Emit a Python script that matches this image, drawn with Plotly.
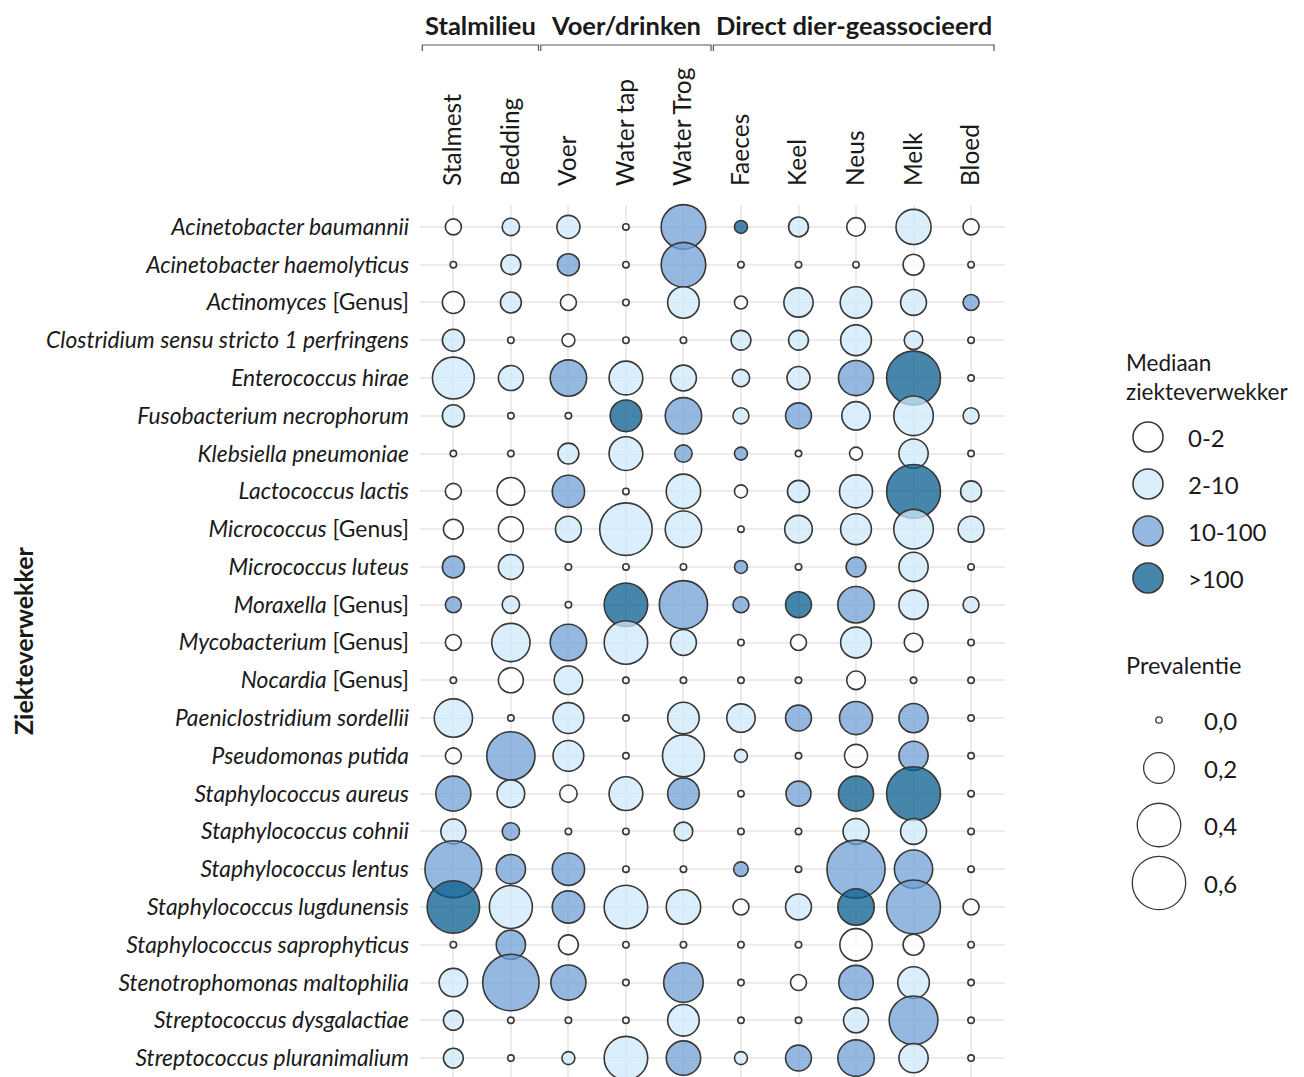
import math
import plotly.graph_objects as go

# ---------------- data ----------------
columns = ["Stalmest", "Bedding", "Voer", "Water tap", "Water Trog",
           "Faeces", "Keel", "Neus", "Melk", "Bloed"]

species = [
    "Acinetobacter baumannii", "Acinetobacter haemolyticus", "Actinomyces [Genus]",
    "Clostridium sensu stricto 1 perfringens", "Enterococcus hirae",
    "Fusobacterium necrophorum", "Klebsiella pneumoniae", "Lactococcus lactis",
    "Micrococcus [Genus]", "Micrococcus luteus", "Moraxella [Genus]",
    "Mycobacterium [Genus]", "Nocardia [Genus]", "Paeniclostridium sordellii",
    "Pseudomonas putida", "Staphylococcus aureus", "Staphylococcus cohnii",
    "Staphylococcus lentus", "Staphylococcus lugdunensis",
    "Staphylococcus saprophyticus", "Stenotrophomonas maltophilia",
    "Streptococcus dysgalactiae", "Streptococcus pluranimalium",
]

# prevalence per species (rows) x sample type (columns)
prevalence = [
    [0.05, 0.06, 0.11, 0.00, 0.42, 0.03, 0.08, 0.07, 0.26, 0.05],
    [0.00, 0.08, 0.10, 0.00, 0.42, 0.00, 0.00, 0.00, 0.09, 0.00],
    [0.10, 0.09, 0.05, 0.00, 0.21, 0.03, 0.18, 0.21, 0.14, 0.05],
    [0.10, 0.00, 0.03, 0.00, 0.00, 0.08, 0.08, 0.20, 0.07, 0.00],
    [0.37, 0.13, 0.28, 0.24, 0.14, 0.06, 0.11, 0.26, 0.61, 0.00],
    [0.10, 0.00, 0.00, 0.21, 0.28, 0.05, 0.14, 0.17, 0.33, 0.05],
    [0.00, 0.00, 0.09, 0.24, 0.06, 0.03, 0.00, 0.03, 0.18, 0.00],
    [0.05, 0.16, 0.22, 0.00, 0.25, 0.03, 0.10, 0.23, 0.61, 0.09],
    [0.08, 0.13, 0.14, 0.58, 0.28, 0.00, 0.16, 0.20, 0.33, 0.14],
    [0.10, 0.13, 0.00, 0.00, 0.00, 0.03, 0.00, 0.08, 0.18, 0.00],
    [0.05, 0.06, 0.00, 0.40, 0.49, 0.05, 0.14, 0.28, 0.18, 0.05],
    [0.05, 0.31, 0.28, 0.40, 0.14, 0.00, 0.05, 0.20, 0.07, 0.00],
    [0.00, 0.13, 0.17, 0.00, 0.00, 0.00, 0.00, 0.07, 0.00, 0.00],
    [0.31, 0.00, 0.20, 0.00, 0.21, 0.17, 0.14, 0.23, 0.18, 0.00],
    [0.05, 0.49, 0.20, 0.00, 0.37, 0.03, 0.00, 0.11, 0.18, 0.00],
    [0.26, 0.16, 0.06, 0.24, 0.21, 0.00, 0.13, 0.26, 0.61, 0.00],
    [0.13, 0.06, 0.00, 0.00, 0.07, 0.00, 0.00, 0.14, 0.14, 0.00],
    [0.68, 0.18, 0.22, 0.00, 0.00, 0.04, 0.00, 0.71, 0.31, 0.00],
    [0.58, 0.39, 0.22, 0.40, 0.25, 0.05, 0.14, 0.28, 0.61, 0.05],
    [0.00, 0.18, 0.08, 0.00, 0.00, 0.00, 0.00, 0.22, 0.09, 0.00],
    [0.17, 0.67, 0.26, 0.00, 0.33, 0.00, 0.05, 0.25, 0.21, 0.00],
    [0.08, 0.00, 0.00, 0.00, 0.21, 0.00, 0.00, 0.13, 0.50, 0.00],
    [0.08, 0.00, 0.03, 0.40, 0.25, 0.03, 0.14, 0.28, 0.18, 0.00],
]

# median pathogen class index: 0 = "0-2", 1 = "2-10", 2 = "10-100", 3 = ">100"
median_class = [
    [0, 1, 1, 0, 2, 3, 1, 0, 1, 0],
    [0, 1, 2, 0, 2, 0, 0, 0, 0, 0],
    [0, 1, 0, 0, 1, 0, 1, 1, 1, 2],
    [1, 0, 0, 0, 0, 1, 1, 1, 1, 0],
    [1, 1, 2, 1, 1, 1, 1, 2, 3, 0],
    [1, 0, 0, 3, 2, 1, 2, 1, 1, 1],
    [0, 0, 1, 1, 2, 2, 0, 0, 1, 0],
    [0, 0, 2, 0, 1, 0, 1, 1, 3, 1],
    [0, 0, 1, 1, 1, 0, 1, 1, 1, 1],
    [2, 1, 0, 0, 0, 2, 0, 2, 1, 0],
    [2, 1, 0, 3, 2, 2, 3, 2, 1, 1],
    [0, 1, 2, 1, 1, 0, 0, 1, 0, 0],
    [0, 0, 1, 0, 0, 0, 0, 0, 0, 0],
    [1, 0, 1, 0, 1, 1, 2, 2, 2, 0],
    [0, 2, 1, 0, 1, 1, 0, 0, 2, 0],
    [2, 1, 0, 1, 2, 0, 2, 3, 3, 0],
    [1, 2, 0, 0, 1, 0, 0, 1, 1, 0],
    [2, 2, 2, 0, 0, 2, 0, 2, 2, 0],
    [3, 1, 2, 1, 1, 0, 1, 3, 2, 0],
    [0, 2, 0, 0, 0, 0, 0, 0, 0, 0],
    [1, 2, 2, 0, 2, 0, 0, 2, 1, 0],
    [1, 0, 0, 0, 1, 0, 0, 1, 2, 0],
    [1, 0, 1, 1, 2, 1, 2, 2, 1, 0],
]

class_labels = ["0-2", "2-10", "10-100", ">100"]
prevalence_levels = [0.0, 0.2, 0.4, 0.6]
prevalence_level_labels = ["0,0", "0,2", "0,4", "0,6"]

groups = ["Stalmilieu", "Voer/drinken", "Direct dier-geassocieerd"]
group_first_col = [0, 2, 5]
group_last_col = [1, 4, 9]

# ---------------- style ----------------
FONT = "Lato"
TXT = "#1a1a1a"
OFF = 8                      # page body margin of the html page
W, H = 1304 - OFF, 1077 - OFF
class_colors = ["rgba(255,255,255,0.75)", "rgba(206,232,250,0.75)",
                "rgba(112,160,214,0.75)", "rgba(8,94,143,0.75)"]
LINE_W = 1.6
LINE_C = "#383838"


def sx(v):  # screen x -> figure px
    return v - OFF


def sy(v):  # screen y -> figure px
    return v - OFF


def diam(p):
    # area proportional to prevalence (outer diameter in px), minus stroke
    return math.sqrt(64 + 4935 * p) - LINE_W


def tick_label(name):
    if name.endswith(" [Genus]"):
        return "<i>" + name[:-8] + "</i> [Genus]"
    return "<i>" + name + "</i>"


# plot area in screen pixels
PL, PR, PT, PB = sx(420), sx(1005), sy(205), sy(1077)

xs, ys, sizes, colors = [], [], [], []
for i, sp in enumerate(species):
    for j, col in enumerate(columns):
        xs.append(j)
        ys.append(i)
        sizes.append(diam(prevalence[i][j]))
        colors.append(class_colors[median_class[i][j]])

fig = go.Figure()
fig.add_trace(go.Scatter(
    x=xs, y=ys, mode="markers", cliponaxis=False, showlegend=False,
    marker=dict(size=sizes, sizemode="diameter", color=colors, opacity=1,
                line=dict(color=LINE_C, width=LINE_W)),
    xaxis="x", yaxis="y",
))

# ---------------- legend (drawn on a pixel-space overlay axis) ----------------
leg_cls_y = [sy(437 + k * 47) for k in range(len(class_labels))]
fig.add_trace(go.Scatter(
    x=[sx(1148)] * len(class_labels), y=leg_cls_y,
    mode="markers", cliponaxis=False, showlegend=False,
    marker=dict(size=30, color=class_colors, opacity=1,
                line=dict(color=LINE_C, width=LINE_W)),
    xaxis="x2", yaxis="y2",
))
leg_size_y = [sy(v) for v in (720, 768, 825, 883)]
fig.add_trace(go.Scatter(
    x=[sx(1159)] * len(prevalence_levels), y=leg_size_y,
    mode="markers", cliponaxis=False, showlegend=False,
    marker=dict(size=[diam(p) for p in prevalence_levels], color="white", opacity=1,
                line=dict(color=LINE_C, width=1.3)),
    xaxis="x2", yaxis="y2",
))

LEG_FS = 24
annotations = []
for k, lab in enumerate(class_labels):
    annotations.append(dict(x=sx(1186), y=leg_cls_y[k], xref="x2", yref="y2",
                            text=lab, showarrow=False, xanchor="left", yanchor="middle",
                            font=dict(family=FONT, size=LEG_FS, color=TXT)))
for k, lab in enumerate(prevalence_level_labels):
    annotations.append(dict(x=sx(1202), y=leg_size_y[k], xref="x2", yref="y2",
                            text=lab, showarrow=False, xanchor="left", yanchor="middle",
                            font=dict(family=FONT, size=LEG_FS, color=TXT)))
annotations.append(dict(x=sx(1124), y=sy(377), xref="x2", yref="y2",
                        text="Mediaan<br>ziekteverwekker", showarrow=False,
                        xanchor="left", yanchor="middle", align="left",
                        font=dict(family=FONT, size=22.5, color=TXT)))
annotations.append(dict(x=sx(1124), y=sy(665), xref="x2", yref="y2",
                        text="Prevalentie", showarrow=False,
                        xanchor="left", yanchor="middle", align="left",
                        font=dict(family=FONT, size=23.5, color=TXT)))
annotations.append(dict(x=sx(23), y=(PT + PB) / 2, xref="x2", yref="y2",
                        text="<b>Ziekteverwekker</b>", textangle=-90, showarrow=False,
                        xanchor="center", yanchor="middle",
                        font=dict(family=FONT, size=25, color=TXT)))

# group headers + brackets (in data x coords of main axis)
shapes = []
XMIN, XMAX = -0.58, 9.59
for g, name in enumerate(groups):
    x0 = group_first_col[g] - 0.5 if g > 0 else XMIN + 0.02
    x1 = group_last_col[g] + 0.5 if g < len(groups) - 1 else 9.42
    x0 += 0.02
    x1 -= 0.02
    annotations.append(dict(x=(x0 + x1) / 2, y=sy(25), xref="x", yref="y2",
                            text="<b>" + name + "</b>", showarrow=False,
                            xanchor="center", yanchor="middle",
                            font=dict(family=FONT, size=25.5, color=TXT)))
    shapes.append(dict(type="path", xref="x", yref="y2",
                       path=f"M {x0},{sy(51)} L {x0},{sy(45)} L {x1},{sy(45)} L {x1},{sy(51)}",
                       line=dict(color="#555555", width=1.2)))

fig.update_layout(
    width=W, height=H,
    margin=dict(l=0, r=0, t=0, b=0),
    paper_bgcolor="white", plot_bgcolor="rgba(0,0,0,0)",
    showlegend=False,
    annotations=annotations, shapes=shapes,
    xaxis=dict(domain=[PL / W, PR / W], range=[XMIN, XMAX], side="top",
               tickvals=list(range(len(columns))), ticktext=columns,
               tickangle=-90, ticks="", ticklabelstandoff=18,
               tickfont=dict(family=FONT, size=24.5, color=TXT),
               showgrid=True, gridcolor="#ebebeb", gridwidth=2,
               zeroline=False, showline=False, fixedrange=True),
    yaxis=dict(domain=[1 - PB / H, 1 - PT / H], range=[22.5, -0.58],
               tickvals=list(range(len(species))),
               ticktext=[tick_label(s) for s in species],
               ticks="", ticklabelstandoff=10,
               tickfont=dict(family=FONT, size=22.8, color=TXT),
               showgrid=True, gridcolor="#ebebeb", gridwidth=2,
               zeroline=False, showline=False, fixedrange=True),
    xaxis2=dict(domain=[0, 1], range=[0, W], visible=False, fixedrange=True),
    yaxis2=dict(domain=[0, 1], range=[H, 0], visible=False, fixedrange=True),
)

fig.write_html("out.html")
